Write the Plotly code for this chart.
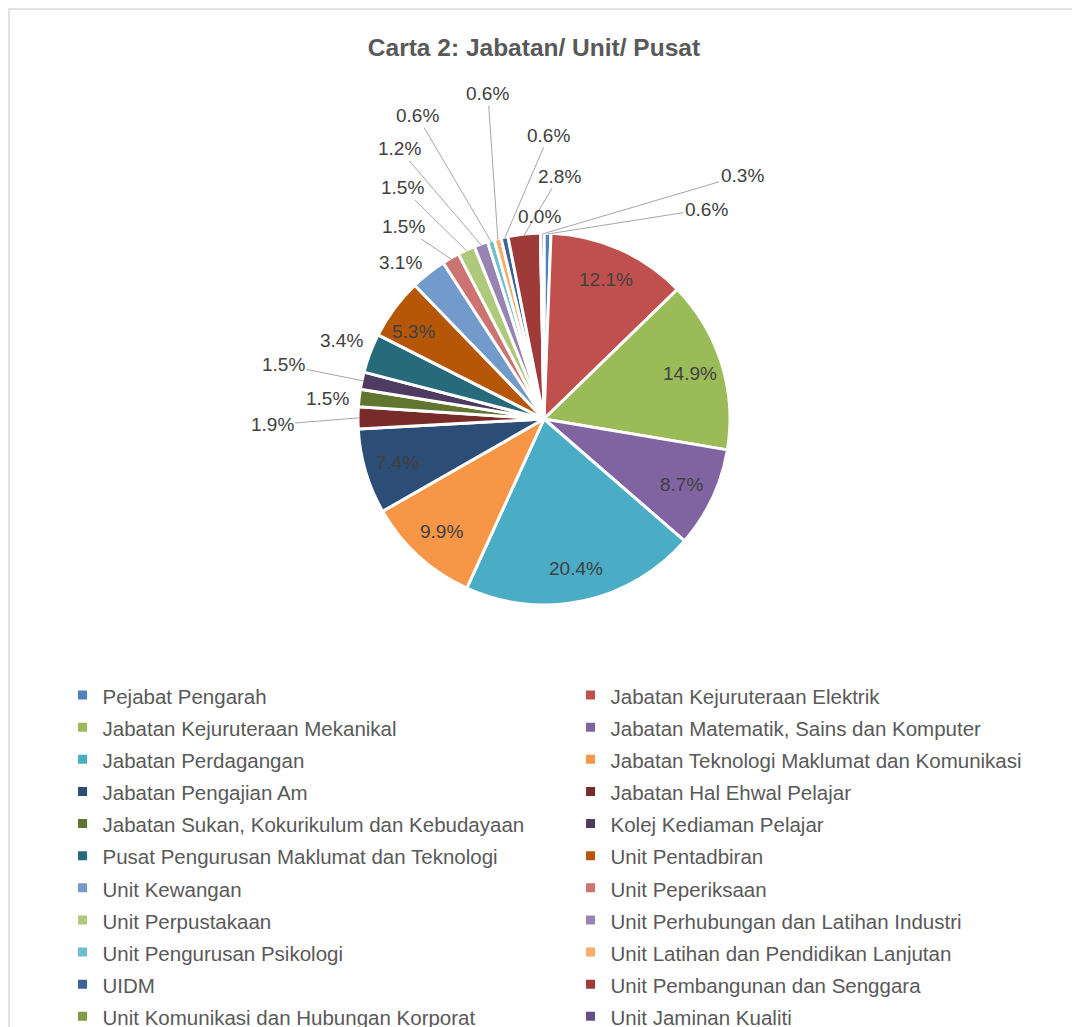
import math
import plotly.graph_objects as go

# data
departments = [
    "Pejabat Pengarah",
    "Jabatan Kejuruteraan Elektrik",
    "Jabatan Kejuruteraan Mekanikal",
    "Jabatan Matematik, Sains dan Komputer",
    "Jabatan Perdagangan",
    "Jabatan Teknologi Maklumat dan Komunikasi",
    "Jabatan Pengajian Am",
    "Jabatan Hal Ehwal Pelajar",
    "Jabatan Sukan, Kokurikulum dan Kebudayaan",
    "Kolej Kediaman Pelajar",
    "Pusat Pengurusan Maklumat dan Teknologi",
    "Unit Pentadbiran",
    "Unit Kewangan",
    "Unit Peperiksaan",
    "Unit Perpustakaan",
    "Unit Perhubungan dan Latihan Industri",
    "Unit Pengurusan Psikologi",
    "Unit Latihan dan Pendidikan Lanjutan",
    "UIDM",
    "Unit Pembangunan dan Senggara",
    "Unit Komunikasi dan Hubungan Korporat",
    "Unit Jaminan Kualiti",
]
percent = [0.6, 12.1, 14.9, 8.7, 20.4, 9.9, 7.4, 1.9, 1.5, 1.5, 3.4,
           5.3, 3.1, 1.5, 1.5, 1.2, 0.6, 0.6, 0.6, 2.8, 0.0, 0.3]

colors = ["#4F81BD", "#C0504D", "#9BBB59", "#8064A2", "#4BACC6", "#F79646",
          "#2C4D75", "#772C2A", "#5F7530", "#4D3B62", "#276A7C", "#B65708",
          "#729ACA", "#CD7371", "#AFC97A", "#9983B5", "#6FBDD1", "#F9AB6B",
          "#3A6596", "#9E3B38", "#7E9B45", "#664F86"]

# slices labelled inside the pie (label at this fraction of the radius)
inside_labels = {1, 2, 3, 4, 5, 6}
INSIDE_K = 0.82
# label offsets in px from slice rim for the other slices: (dx, dy, leader line)
outside_labels = {
    0: (159, -25, True), 7: (-87, 7, True), 8: (-33, 0, False),
    9: (-79, -16, True), 10: (-29, -13, False), 11: (18, 22, False),
    12: (-29, -12, False), 13: (-48, -32, True), 14: (-64, -63, True),
    15: (-82, -96, True), 16: (-74, -126, True), 17: (-10, -146, True),
    18: (44, -103, True), 19: (35, -59, True), 20: (-1, -18, False),
    21: (200, -59, True),
}

W, H = 1080, 1027
CX, CY, R = 536, 411, 186
LABEL_FONT = dict(family="Liberation Sans, Arial", size=19, color="#404040")

fig = go.Figure(go.Pie(
    labels=[f'<span style="font-size:20.5px">{d}</span>' for d in departments],
    values=percent,
    sort=False,
    direction="clockwise",
    rotation=0,
    marker=dict(colors=colors, line=dict(color="white", width=3)),
    textinfo="none",
    domain=dict(x=[(CX - R) / W, (CX + R) / W],
                y=[1 - (CY + R) / H, 1 - (CY - R) / H]),
    hoverinfo="label+value",
))

# data labels, placed from each slice's mid angle
total = sum(percent)
cum = 0.0
annotations = []
for i, v in enumerate(percent):
    ang = (cum + v / 2) / total * 2 * math.pi
    cum += v
    sx, sy = math.sin(ang), -math.cos(ang)
    if i in inside_labels:
        annotations.append(dict(
            x=(CX + INSIDE_K * R * sx) / W, y=1 - (CY + INSIDE_K * R * sy) / H,
            xref="paper", yref="paper", text=f"{v:.1f}%", showarrow=False,
            xanchor="center", yanchor="middle", font=LABEL_FONT,
        ))
        continue
    dx, dy, line = outside_labels[i]
    px = CX + (R - 1) * sx
    py = CY + (R - 1) * sy
    annotations.append(dict(
        x=px / W, y=1 - py / H, xref="paper", yref="paper",
        text=f"{v:.1f}%", showarrow=True, ax=dx, ay=dy,
        arrowhead=0, arrowwidth=1, standoff=0,
        arrowcolor="#A6A6A6" if line else "rgba(0,0,0,0)",
        font=LABEL_FONT,
    ))

fig.update_layout(
    width=W, height=H,
    paper_bgcolor="white",
    margin=dict(l=0, r=0, t=0, b=0, autoexpand=False),
    title=dict(text="<b>Carta 2: Jabatan/ Unit/ Pusat</b>", x=0.487, xanchor="center",
               y=1 - 39 / H, yanchor="middle",
               font=dict(family="Liberation Sans, Arial", size=24.5, color="#595959")),
    legend=dict(orientation="h", x=0.0505, xanchor="left", y=0.3515, yanchor="top",
                entrywidth=463, entrywidthmode="pixels",
                font=dict(family="Liberation Sans, Arial", size=22.4, color="#595959"),
                traceorder="normal"),
    annotations=annotations,
    shapes=[dict(type="rect", xref="paper", yref="paper",
                 x0=1 / W, x1=1.05, y0=-0.05, y1=1 - 1 / H,
                 line=dict(color="#D9D9D9", width=1.5))],
)

fig.write_html("out.html")
